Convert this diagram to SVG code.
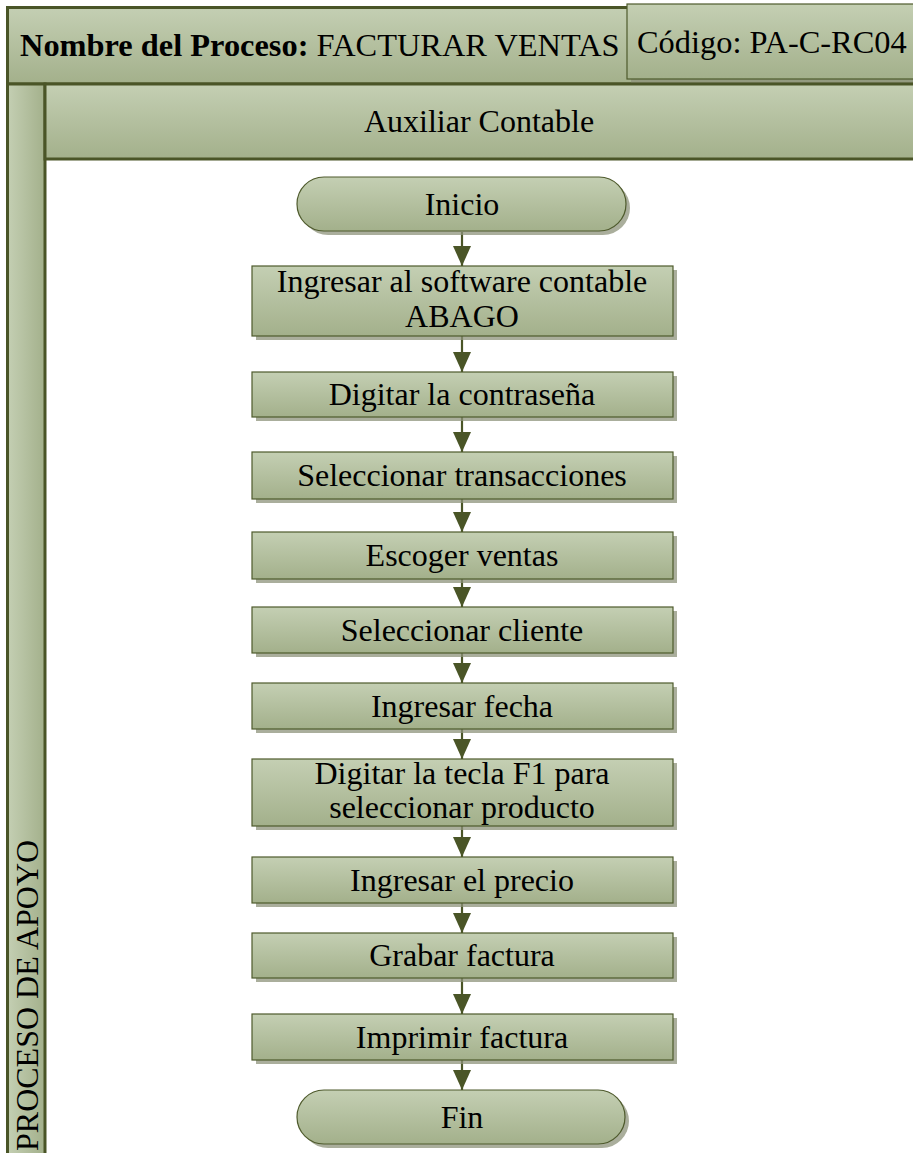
<svg xmlns="http://www.w3.org/2000/svg" width="913" height="1153" viewBox="0 0 913 1153">
  <defs>
    <linearGradient id="gV" x1="0" y1="0" x2="0" y2="1">
      <stop offset="0" stop-color="#c4cfb3"/>
      <stop offset="1" stop-color="#a3b08b"/>
    </linearGradient>
    <linearGradient id="gH" x1="0" y1="0" x2="1" y2="0">
      <stop offset="0" stop-color="#c4cfb3"/>
      <stop offset="1" stop-color="#a3b08b"/>
    </linearGradient>
    <!-- solid triangular arrowhead, tip at the line end -->
    <marker id="arrow" markerUnits="userSpaceOnUse" markerWidth="20" markerHeight="18" viewBox="0 0 20 18" refX="20" refY="9" orient="auto">
      <path d="M0,0 L20,9 L0,18 Z" fill="#4a5527"/>
    </marker>
    <style>
      .lane { fill: url(#gV); stroke: #4a5527; stroke-width: 3; }
      .laneV { fill: url(#gH); stroke: #4a5527; stroke-width: 3; }
      .box { fill: url(#gV); stroke: #4e5a2c; stroke-width: 1.2; }
      .shadow { fill: #8d937b; opacity: 0.75; }
      .t { font-family: "Liberation Serif", "Times New Roman", serif; font-size: 32px; fill: #000; text-anchor: middle; }
      .h { font-family: "Liberation Serif", "Times New Roman", serif; font-size: 32.4px; fill: #000; }
      .conn line { stroke: #4a5527; stroke-width: 2.2; }
    </style>
  </defs>

  <!-- pool header -->
  <g id="pool-header">
    <rect class="lane" x="7.5" y="7.5" width="910" height="76.5"/>
    <text class="h" x="20" y="56"><tspan font-weight="bold">Nombre del Proceso:</tspan> FACTURAR VENTAS</text>
  </g>

  <g id="codigo">
    <rect class="shadow" x="631" y="8" width="290" height="75"/>
    <rect class="box" x="627" y="4" width="290" height="75"/>
    <text class="h" x="637" y="53">Código: PA-C-RC04</text>
  </g>

  <!-- vertical pool label strip -->
  <g id="pool-side">
    <rect class="laneV" x="7.5" y="84" width="37.5" height="1080"/>
    <text class="t" transform="translate(38,1151) rotate(-90)" style="text-anchor:start">PROCESO DE APOYO</text>
  </g>

  <!-- lane header -->
  <g id="lane-auxiliar">
    <rect class="lane" x="45" y="84" width="872" height="75"/>
    <text class="t" x="479" y="132">Auxiliar Contable</text>
  </g>

  <!-- connectors -->
  <g class="conn" id="connectors">
    <line x1="462" y1="232" x2="462" y2="266" marker-end="url(#arrow)"/>
    <line x1="462" y1="336" x2="462" y2="372" marker-end="url(#arrow)"/>
    <line x1="462" y1="417" x2="462" y2="452" marker-end="url(#arrow)"/>
    <line x1="462" y1="499" x2="462" y2="532" marker-end="url(#arrow)"/>
    <line x1="462" y1="579" x2="462" y2="607" marker-end="url(#arrow)"/>
    <line x1="462" y1="653" x2="462" y2="683" marker-end="url(#arrow)"/>
    <line x1="462" y1="729" x2="462" y2="759" marker-end="url(#arrow)"/>
    <line x1="462" y1="826" x2="462" y2="857" marker-end="url(#arrow)"/>
    <line x1="462" y1="903" x2="462" y2="933" marker-end="url(#arrow)"/>
    <line x1="462" y1="978" x2="462" y2="1014" marker-end="url(#arrow)"/>
    <line x1="462" y1="1060" x2="462" y2="1090" marker-end="url(#arrow)"/>
  </g>

  <!-- process nodes -->
  <g id="inicio">
    <rect class="shadow" x="301" y="181" width="329" height="54" rx="27"/>
    <rect class="box" x="297" y="177" width="329" height="54" rx="27"/>
    <text class="t" x="462" y="215">Inicio</text>
  </g>

  <g id="ingresar-software">
    <rect class="shadow" x="256" y="270" width="421" height="70"/>
    <rect class="box" x="252" y="266" width="421" height="70"/>
    <text class="t" x="462" y="292">Ingresar al software contable</text>
    <text class="t" x="462" y="327">ABAGO</text>
  </g>

  <g id="digitar-contrasena">
    <rect class="shadow" x="256" y="376" width="421" height="45"/>
    <rect class="box" x="252" y="372" width="421" height="45"/>
    <text class="t" x="462" y="405">Digitar la contraseña</text>
  </g>

  <g id="seleccionar-transacciones">
    <rect class="shadow" x="256" y="456" width="421" height="47"/>
    <rect class="box" x="252" y="452" width="421" height="47"/>
    <text class="t" x="462" y="486">Seleccionar transacciones</text>
  </g>

  <g id="escoger-ventas">
    <rect class="shadow" x="256" y="536" width="421" height="47"/>
    <rect class="box" x="252" y="532" width="421" height="47"/>
    <text class="t" x="462" y="566">Escoger ventas</text>
  </g>

  <g id="seleccionar-cliente">
    <rect class="shadow" x="256" y="611" width="421" height="46"/>
    <rect class="box" x="252" y="607" width="421" height="46"/>
    <text class="t" x="462" y="641">Seleccionar cliente</text>
  </g>

  <g id="ingresar-fecha">
    <rect class="shadow" x="256" y="687" width="421" height="46"/>
    <rect class="box" x="252" y="683" width="421" height="46"/>
    <text class="t" x="462" y="717">Ingresar fecha</text>
  </g>

  <g id="digitar-f1">
    <rect class="shadow" x="256" y="763" width="421" height="67"/>
    <rect class="box" x="252" y="759" width="421" height="67"/>
    <text class="t" x="462" y="784">Digitar la tecla F1 para</text>
    <text class="t" x="462" y="818">seleccionar producto</text>
  </g>

  <g id="ingresar-precio">
    <rect class="shadow" x="256" y="861" width="421" height="46"/>
    <rect class="box" x="252" y="857" width="421" height="46"/>
    <text class="t" x="462" y="891">Ingresar el precio</text>
  </g>

  <g id="grabar-factura">
    <rect class="shadow" x="256" y="937" width="421" height="45"/>
    <rect class="box" x="252" y="933" width="421" height="45"/>
    <text class="t" x="462" y="966">Grabar factura</text>
  </g>

  <g id="imprimir-factura">
    <rect class="shadow" x="256" y="1018" width="421" height="46"/>
    <rect class="box" x="252" y="1014" width="421" height="46"/>
    <text class="t" x="462" y="1048">Imprimir factura</text>
  </g>

  <g id="fin">
    <rect class="shadow" x="301" y="1094" width="328" height="54" rx="27"/>
    <rect class="box" x="297" y="1090" width="328" height="54" rx="27"/>
    <text class="t" x="462" y="1128">Fin</text>
  </g>
</svg>
